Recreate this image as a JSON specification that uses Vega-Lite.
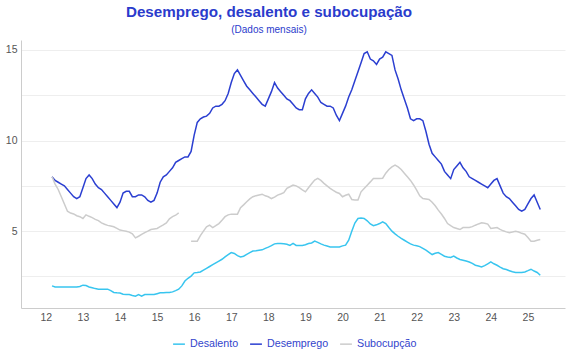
{
"$schema": "https://vega.github.io/schema/vega-lite/v6.json",
"width": 544, "height": 268,
"autosize": {"type": "none"},
"padding": {"left": 21, "top": 40, "right": 5, "bottom": 52},
"background": "white",
"title": {"text": "Desemprego, desalento e subocupação", "subtitle": "(Dados mensais)", "anchor": "middle", "dx": -24, "font": "Liberation Sans", "fontSize": 15.2, "fontWeight": "bold", "color": "#2a3bcc", "subtitleFont": "Liberation Sans", "subtitleFontSize": 10, "subtitleColor": "#2a3bcc", "offset": 5, "subtitlePadding": 5},
"data": {"values": [
{"t":12.167,"Desalento":1.98,"Desemprego":8.0,"Subocupção":8.0},
{"t":12.25,"Desalento":1.92,"Desemprego":7.8,"Subocupção":7.6},
{"t":12.333,"Desalento":1.92,"Desemprego":7.7,"Subocupção":7.3},
{"t":12.417,"Desalento":1.92,"Desemprego":7.6,"Subocupção":6.9},
{"t":12.5,"Desalento":1.92,"Desemprego":7.5,"Subocupção":6.5},
{"t":12.583,"Desalento":1.92,"Desemprego":7.3,"Subocupção":6.1},
{"t":12.667,"Desalento":1.92,"Desemprego":7.1,"Subocupção":6.0},
{"t":12.75,"Desalento":1.92,"Desemprego":6.9,"Subocupção":5.95},
{"t":12.833,"Desalento":1.92,"Desemprego":6.8,"Subocupção":5.85},
{"t":12.917,"Desalento":1.95,"Desemprego":6.9,"Subocupção":5.8},
{"t":13.0,"Desalento":2.02,"Desemprego":7.4,"Subocupção":5.7},
{"t":13.083,"Desalento":2.0,"Desemprego":7.9,"Subocupção":5.9},
{"t":13.167,"Desalento":1.92,"Desemprego":8.1,"Subocupção":5.82},
{"t":13.25,"Desalento":1.88,"Desemprego":7.9,"Subocupção":5.75},
{"t":13.333,"Desalento":1.83,"Desemprego":7.6,"Subocupção":5.65},
{"t":13.417,"Desalento":1.8,"Desemprego":7.4,"Subocupção":5.58},
{"t":13.5,"Desalento":1.8,"Desemprego":7.3,"Subocupção":5.46},
{"t":13.583,"Desalento":1.8,"Desemprego":7.1,"Subocupção":5.38},
{"t":13.667,"Desalento":1.8,"Desemprego":6.9,"Subocupção":5.32},
{"t":13.75,"Desalento":1.72,"Desemprego":6.7,"Subocupção":5.28},
{"t":13.833,"Desalento":1.62,"Desemprego":6.5,"Subocupção":5.24},
{"t":13.917,"Desalento":1.6,"Desemprego":6.3,"Subocupção":5.15},
{"t":14.0,"Desalento":1.59,"Desemprego":6.6,"Subocupção":5.06},
{"t":14.083,"Desalento":1.52,"Desemprego":7.1,"Subocupção":5.03},
{"t":14.167,"Desalento":1.5,"Desemprego":7.2,"Subocupção":5.0},
{"t":14.25,"Desalento":1.5,"Desemprego":7.2,"Subocupção":4.95},
{"t":14.333,"Desalento":1.45,"Desemprego":6.9,"Subocupção":4.85},
{"t":14.417,"Desalento":1.41,"Desemprego":6.9,"Subocupção":4.63},
{"t":14.5,"Desalento":1.5,"Desemprego":7.0,"Subocupção":4.72},
{"t":14.583,"Desalento":1.41,"Desemprego":7.0,"Subocupção":4.82},
{"t":14.667,"Desalento":1.5,"Desemprego":6.9,"Subocupção":4.92},
{"t":14.75,"Desalento":1.5,"Desemprego":6.7,"Subocupção":5.0},
{"t":14.833,"Desalento":1.5,"Desemprego":6.6,"Subocupção":5.09},
{"t":14.917,"Desalento":1.5,"Desemprego":6.7,"Subocupção":5.12},
{"t":15.0,"Desalento":1.55,"Desemprego":7.1,"Subocupção":5.15},
{"t":15.083,"Desalento":1.6,"Desemprego":7.7,"Subocupção":5.25},
{"t":15.167,"Desalento":1.6,"Desemprego":8.0,"Subocupção":5.35},
{"t":15.25,"Desalento":1.61,"Desemprego":8.1,"Subocupção":5.46},
{"t":15.333,"Desalento":1.61,"Desemprego":8.3,"Subocupção":5.68},
{"t":15.417,"Desalento":1.65,"Desemprego":8.5,"Subocupção":5.8},
{"t":15.5,"Desalento":1.72,"Desemprego":8.8,"Subocupção":5.88},
{"t":15.583,"Desalento":1.8,"Desemprego":8.9,"Subocupção":6.01},
{"t":15.667,"Desalento":1.98,"Desemprego":9.0,"Subocupção":null},
{"t":15.75,"Desalento":2.25,"Desemprego":9.1,"Subocupção":null},
{"t":15.833,"Desalento":2.4,"Desemprego":9.1,"Subocupção":null},
{"t":15.917,"Desalento":2.52,"Desemprego":9.4,"Subocupção":4.45},
{"t":16.0,"Desalento":2.7,"Desemprego":10.3,"Subocupção":4.45},
{"t":16.083,"Desalento":2.72,"Desemprego":11.0,"Subocupção":4.45},
{"t":16.167,"Desalento":2.75,"Desemprego":11.2,"Subocupção":4.75},
{"t":16.25,"Desalento":2.85,"Desemprego":11.3,"Subocupção":5.0},
{"t":16.333,"Desalento":2.95,"Desemprego":11.35,"Subocupção":5.24},
{"t":16.417,"Desalento":3.05,"Desemprego":11.5,"Subocupção":5.33},
{"t":16.5,"Desalento":3.15,"Desemprego":11.8,"Subocupção":5.2},
{"t":16.583,"Desalento":3.25,"Desemprego":11.9,"Subocupção":5.3},
{"t":16.667,"Desalento":3.35,"Desemprego":11.9,"Subocupção":5.42},
{"t":16.75,"Desalento":3.45,"Desemprego":12.0,"Subocupção":5.6},
{"t":16.833,"Desalento":3.58,"Desemprego":12.2,"Subocupção":5.8},
{"t":16.917,"Desalento":3.7,"Desemprego":12.6,"Subocupção":5.9},
{"t":17.0,"Desalento":3.82,"Desemprego":13.2,"Subocupção":5.94},
{"t":17.083,"Desalento":3.77,"Desemprego":13.7,"Subocupção":5.94},
{"t":17.167,"Desalento":3.65,"Desemprego":13.9,"Subocupção":5.94},
{"t":17.25,"Desalento":3.58,"Desemprego":13.6,"Subocupção":6.3},
{"t":17.333,"Desalento":3.62,"Desemprego":13.3,"Subocupção":6.45},
{"t":17.417,"Desalento":3.72,"Desemprego":13.0,"Subocupção":6.62},
{"t":17.5,"Desalento":3.82,"Desemprego":12.8,"Subocupção":6.78},
{"t":17.583,"Desalento":3.9,"Desemprego":12.6,"Subocupção":6.9},
{"t":17.667,"Desalento":3.92,"Desemprego":12.4,"Subocupção":6.96},
{"t":17.75,"Desalento":3.95,"Desemprego":12.2,"Subocupção":7.0},
{"t":17.833,"Desalento":3.97,"Desemprego":12.0,"Subocupção":7.04},
{"t":17.917,"Desalento":4.05,"Desemprego":11.9,"Subocupção":6.95},
{"t":18.0,"Desalento":4.12,"Desemprego":12.3,"Subocupção":6.9},
{"t":18.083,"Desalento":4.2,"Desemprego":12.7,"Subocupção":6.8},
{"t":18.167,"Desalento":4.3,"Desemprego":13.2,"Subocupção":6.88},
{"t":18.25,"Desalento":4.32,"Desemprego":12.9,"Subocupção":6.99},
{"t":18.333,"Desalento":4.32,"Desemprego":12.7,"Subocupção":7.05},
{"t":18.417,"Desalento":4.3,"Desemprego":12.5,"Subocupção":7.12},
{"t":18.5,"Desalento":4.28,"Desemprego":12.3,"Subocupção":7.36},
{"t":18.583,"Desalento":4.21,"Desemprego":12.2,"Subocupção":7.45},
{"t":18.667,"Desalento":4.32,"Desemprego":12.0,"Subocupção":7.54},
{"t":18.75,"Desalento":4.21,"Desemprego":11.8,"Subocupção":7.5},
{"t":18.833,"Desalento":4.21,"Desemprego":11.7,"Subocupção":7.4},
{"t":18.917,"Desalento":4.21,"Desemprego":11.7,"Subocupção":7.28},
{"t":19.0,"Desalento":4.25,"Desemprego":12.3,"Subocupção":7.17},
{"t":19.083,"Desalento":4.32,"Desemprego":12.6,"Subocupção":7.4},
{"t":19.167,"Desalento":4.35,"Desemprego":12.8,"Subocupção":7.62},
{"t":19.25,"Desalento":4.45,"Desemprego":12.6,"Subocupção":7.82},
{"t":19.333,"Desalento":4.38,"Desemprego":12.4,"Subocupção":7.91},
{"t":19.417,"Desalento":4.3,"Desemprego":12.1,"Subocupção":7.8},
{"t":19.5,"Desalento":4.23,"Desemprego":12.0,"Subocupção":7.64},
{"t":19.583,"Desalento":4.18,"Desemprego":11.9,"Subocupção":7.5},
{"t":19.667,"Desalento":4.13,"Desemprego":11.9,"Subocupção":7.36},
{"t":19.75,"Desalento":4.13,"Desemprego":11.8,"Subocupção":7.25},
{"t":19.833,"Desalento":4.13,"Desemprego":11.4,"Subocupção":7.15},
{"t":19.917,"Desalento":4.13,"Desemprego":11.1,"Subocupção":7.08},
{"t":20.0,"Desalento":4.19,"Desemprego":11.5,"Subocupção":6.9},
{"t":20.083,"Desalento":4.23,"Desemprego":11.9,"Subocupção":6.98},
{"t":20.167,"Desalento":4.5,"Desemprego":12.4,"Subocupção":7.04},
{"t":20.25,"Desalento":5.0,"Desemprego":12.8,"Subocupção":6.75},
{"t":20.333,"Desalento":5.45,"Desemprego":13.3,"Subocupção":6.72},
{"t":20.417,"Desalento":5.7,"Desemprego":13.8,"Subocupção":6.72},
{"t":20.5,"Desalento":5.72,"Desemprego":14.3,"Subocupção":7.17},
{"t":20.583,"Desalento":5.7,"Desemprego":14.8,"Subocupção":7.35},
{"t":20.667,"Desalento":5.57,"Desemprego":14.9,"Subocupção":7.54},
{"t":20.75,"Desalento":5.4,"Desemprego":14.5,"Subocupção":7.72},
{"t":20.833,"Desalento":5.3,"Desemprego":14.4,"Subocupção":7.91},
{"t":20.917,"Desalento":5.35,"Desemprego":14.2,"Subocupção":7.91},
{"t":21.0,"Desalento":5.42,"Desemprego":14.5,"Subocupção":7.91},
{"t":21.083,"Desalento":5.52,"Desemprego":14.6,"Subocupção":7.92},
{"t":21.167,"Desalento":5.42,"Desemprego":14.9,"Subocupção":8.2},
{"t":21.25,"Desalento":5.2,"Desemprego":14.8,"Subocupção":8.4},
{"t":21.333,"Desalento":5.0,"Desemprego":14.7,"Subocupção":8.55},
{"t":21.417,"Desalento":4.85,"Desemprego":13.9,"Subocupção":8.65},
{"t":21.5,"Desalento":4.72,"Desemprego":13.4,"Subocupção":8.55},
{"t":21.583,"Desalento":4.6,"Desemprego":12.8,"Subocupção":8.4},
{"t":21.667,"Desalento":4.5,"Desemprego":12.3,"Subocupção":8.2},
{"t":21.75,"Desalento":4.4,"Desemprego":11.8,"Subocupção":8.0},
{"t":21.833,"Desalento":4.3,"Desemprego":11.2,"Subocupção":7.8},
{"t":21.917,"Desalento":4.23,"Desemprego":11.1,"Subocupção":7.55},
{"t":22.0,"Desalento":4.2,"Desemprego":11.2,"Subocupção":7.27},
{"t":22.083,"Desalento":4.15,"Desemprego":11.2,"Subocupção":6.95},
{"t":22.167,"Desalento":4.05,"Desemprego":11.1,"Subocupção":6.8},
{"t":22.25,"Desalento":3.95,"Desemprego":10.5,"Subocupção":6.78},
{"t":22.333,"Desalento":3.83,"Desemprego":9.8,"Subocupção":6.75},
{"t":22.417,"Desalento":3.71,"Desemprego":9.3,"Subocupção":6.6},
{"t":22.5,"Desalento":3.78,"Desemprego":9.1,"Subocupção":6.4},
{"t":22.583,"Desalento":3.82,"Desemprego":8.9,"Subocupção":6.16},
{"t":22.667,"Desalento":3.72,"Desemprego":8.7,"Subocupção":5.95},
{"t":22.75,"Desalento":3.62,"Desemprego":8.3,"Subocupção":5.7},
{"t":22.833,"Desalento":3.58,"Desemprego":8.1,"Subocupção":5.42},
{"t":22.917,"Desalento":3.55,"Desemprego":7.9,"Subocupção":5.3},
{"t":23.0,"Desalento":3.62,"Desemprego":8.4,"Subocupção":5.2},
{"t":23.083,"Desalento":3.52,"Desemprego":8.6,"Subocupção":5.15},
{"t":23.167,"Desalento":3.44,"Desemprego":8.8,"Subocupção":5.09},
{"t":23.25,"Desalento":3.4,"Desemprego":8.5,"Subocupção":5.2},
{"t":23.333,"Desalento":3.35,"Desemprego":8.3,"Subocupção":5.2},
{"t":23.417,"Desalento":3.3,"Desemprego":8.0,"Subocupção":5.2},
{"t":23.5,"Desalento":3.22,"Desemprego":7.9,"Subocupção":5.25},
{"t":23.583,"Desalento":3.12,"Desemprego":7.8,"Subocupção":5.33},
{"t":23.667,"Desalento":3.08,"Desemprego":7.7,"Subocupção":5.4},
{"t":23.75,"Desalento":3.03,"Desemprego":7.6,"Subocupção":5.46},
{"t":23.833,"Desalento":3.1,"Desemprego":7.5,"Subocupção":5.44},
{"t":23.917,"Desalento":3.2,"Desemprego":7.4,"Subocupção":5.39},
{"t":24.0,"Desalento":3.3,"Desemprego":7.6,"Subocupção":5.15},
{"t":24.083,"Desalento":3.2,"Desemprego":7.8,"Subocupção":5.18},
{"t":24.167,"Desalento":3.12,"Desemprego":7.9,"Subocupção":5.2},
{"t":24.25,"Desalento":3.02,"Desemprego":7.5,"Subocupção":5.1},
{"t":24.333,"Desalento":2.93,"Desemprego":7.1,"Subocupção":5.02},
{"t":24.417,"Desalento":2.88,"Desemprego":6.9,"Subocupção":4.96},
{"t":24.5,"Desalento":2.82,"Desemprego":6.8,"Subocupção":4.91},
{"t":24.583,"Desalento":2.76,"Desemprego":6.6,"Subocupção":4.95},
{"t":24.667,"Desalento":2.72,"Desemprego":6.4,"Subocupção":5.0},
{"t":24.75,"Desalento":2.72,"Desemprego":6.2,"Subocupção":4.95},
{"t":24.833,"Desalento":2.72,"Desemprego":6.1,"Subocupção":4.88},
{"t":24.917,"Desalento":2.75,"Desemprego":6.2,"Subocupção":4.83},
{"t":25.0,"Desalento":2.82,"Desemprego":6.5,"Subocupção":4.65},
{"t":25.083,"Desalento":2.9,"Desemprego":6.8,"Subocupção":4.45},
{"t":25.167,"Desalento":2.8,"Desemprego":7.0,"Subocupção":4.45},
{"t":25.25,"Desalento":2.72,"Desemprego":6.6,"Subocupção":4.5},
{"t":25.333,"Desalento":2.57,"Desemprego":6.2,"Subocupção":4.54}
]},
"transform": [{"fold": ["Desalento", "Desemprego", "Subocupção"], "as": ["serie", "valor"]}],
"mark": {"type": "line", "strokeWidth": 1.5},
"encoding": {
  "x": {"field": "t", "type": "quantitative", "scale": {"domain": [11.33, 26], "nice": false, "zero": false},
        "axis": {"values": [12,13,14,15,16,17,18,19,20,21,22,23,24,25], "title": null, "grid": false, "ticks": false, "domainColor": "#cccccc", "labelColor": "#555555", "labelFontSize": 10.5, "labelFont": "Liberation Sans", "labelPadding": 4}},
  "y": {"field": "valor", "type": "quantitative", "scale": {"domain": [0.76, 15.55], "nice": false, "zero": false},
        "axis": {"values": [2.5,5,7.5,10,12.5,15], "labelExpr": "datum.value % 5 === 0 ? datum.label : ''", "title": null, "ticks": false, "grid": true, "gridColor": "#eeeeee", "domainColor": "#cccccc", "labelColor": "#555555", "labelFontSize": 10.5, "labelFont": "Liberation Sans", "labelPadding": 4}},
  "color": {"field": "serie", "type": "nominal", "scale": {"domain": ["Desalento", "Desemprego", "Subocupção"], "range": ["#38c5ef", "#2b3fd1", "#cccccc"]},
        "legend": {"orient": "none", "legendX": 151, "legendY": 297, "direction": "horizontal", "title": null, "symbolType": "stroke", "symbolStrokeWidth": 1.5, "symbolSize": 140, "labelColor": "#3344cc", "labelFontSize": 10.7, "labelFont": "Liberation Sans", "columnPadding": 8}}
},
"config": {"view": {"stroke": null}}
}
